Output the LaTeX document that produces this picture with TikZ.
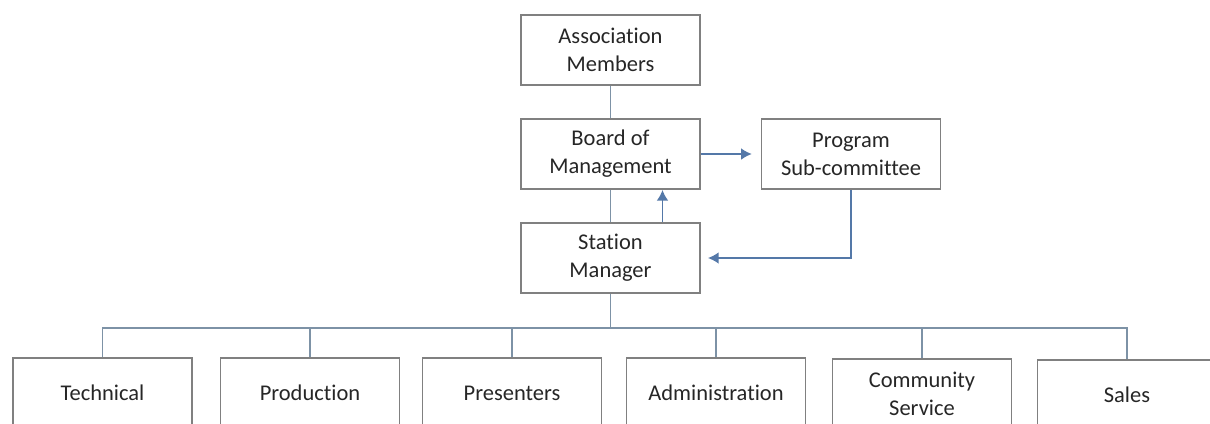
\documentclass[tikz,border=0pt]{standalone}
\usepackage{fontspec}
\setmainfont{Carlito}[Ligatures={NoCommon}]
\usetikzlibrary{arrows.meta}
\definecolor{boxgray}{HTML}{808080}
\definecolor{linegray}{HTML}{7D92A6}
\definecolor{arrowblue}{HTML}{4A72A8}
\begin{document}
\begin{tikzpicture}[x=0.02cm, y=-0.02cm]
\tikzset{ >={Latex[length=6pt,width=6.5pt]},
  unitbox/.style={draw=boxgray, line width=1.1pt, minimum width=3.58cm, minimum height=1.4cm,
    align=center, inner sep=0pt, text=black!85, font=\fontsize{12.8}{15.9}\selectfont},
  link/.style={draw=linegray, line width=0.8pt},
  flow/.style={draw=arrowblue!80!linegray, line width=0.8pt, ->}, }

\useasboundingbox (0,0) rectangle (1210,423);
\clip (0,0) rectangle (1210,423);

%\draw [lightgray, dashed](0,0) grid[step=50] (1210,423);

\node [unitbox] (assoc)   at (610.5,50)  {Association\\Members};
\node [unitbox] (board)   at (610.5,154) {Board of\\Management};
\node [unitbox] (program) at (851,154)   {Program\\Sub-committee};
\node [unitbox] (station) at (610.5,258) {Station\\Manager};

\node [unitbox] (tech)  at (102.5,393) {Technical};
\node [unitbox] (prod)  at (310,393)   {Production};
\node [unitbox] (pres)  at (512,393)   {Presenters};
\node [unitbox] (admin) at (716,393)   {Administration};
\node [unitbox] (comm)  at (922,394)   {Community\\Service};
\node [unitbox] (sales) at (1127,395)  {Sales};

\coordinate (bus) at (610.5,328);

\draw [link] (assoc) -- (board);
\draw [link] (board) -- (station);
\draw [flow, shorten >=5pt] (board.east) -- (program.west);
\draw [flow] ([xshift=1.04cm]station.north) -- ([xshift=1.04cm]board.south);
\draw [flow, shorten >=4pt] (program.south) |- (station.east);

\draw [link] (station.south) -- (bus);
\draw [link] (tech.north) |- (bus) -| (sales.north);
\foreach \unit in {prod,pres,admin,comm}
  \draw [link] (\unit.north) -- (\unit.north |- bus);

\end{tikzpicture}
\end{document}
